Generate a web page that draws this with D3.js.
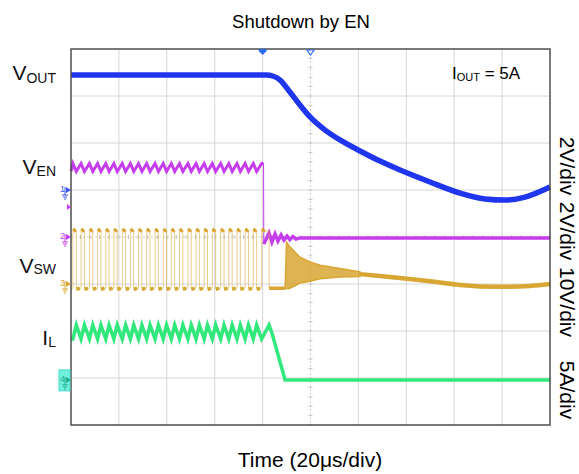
<!DOCTYPE html>
<html>
<head>
<meta charset="utf-8">
<script src="https://cdn.jsdelivr.net/npm/d3@7"></script>
<style>
  body { margin: 0; background: #fff; }
  svg { font-family: "Liberation Sans", Arial, sans-serif; }
</style>
</head>
<body>
<div id="scope"></div>
<script>
const TITLE = "Shutdown by EN";
const X_LABEL = "Time (20μs/div)";
const TIME_RANGE = [0, 200];

// channel settings : units/div and ground level (div from center)
const CH_SCALE = [2, 2, 10, 5];
const CH_GROUND = [1.0, 0, -1.0, -3.04];
const CH_LABELS = ["2V/div", "2V/div", "10V/div", "5A/div"];
const TRIG_T = 80;
const TRIG_LEVEL = 1.28; // on EN
const REF_T = 100;

// switching edges of VSW (µs)
const swRise = [0.8, 4.2, 7.7, 11.1, 14.5, 17.9, 21.4, 24.8, 28.2, 31.6, 35.1, 38.5,
    41.9, 45.3, 48.8, 52.2, 55.6, 59.0, 62.5, 65.9, 69.3, 72.7, 76.1, 79.6];
const swFall = [2.2, 5.6, 9.1, 12.5, 15.9, 19.3, 22.8, 26.2, 29.6, 33.0, 36.5, 39.9,
    43.3, 46.7, 50.2, 53.6, 57.0, 60.4, 63.9, 67.3, 70.7, 74.1, 77.5, 82.7];

// VOUT (V)
const voutT = [0, 81.5, 84.5, 87.3, 91.4, 95.6, 99.8, 106.1, 112.3, 120.7, 129.0,
    137.4, 149.9, 162.4, 172.9, 181.2, 189.6, 200];
const voutV = [4.89, 4.89, 4.84, 4.68, 4.17, 3.62, 3.11, 2.55, 2.13, 1.66, 1.23,
    0.85, 0.34, -0.13, -0.38, -0.43, -0.30, 0.13];

// VEN (V)
const VEN_PEAK = 3.13, VEN_VALLEY = 2.79;
const VEN_DROP_T = 80.4;
const venPostT = [80.5, 82.7, 83.9, 85.2, 86.4, 87.7, 88.9, 90.2, 91.4, 92.7, 93.9, 95.6, 200];
const venPostV = [-0.30, 0.17, -0.21, 0.13, -0.17, 0.09, -0.13, 0.04, -0.11, 0.02, -0.09, -0.04, -0.04];

// VSW (V)
const VSW_HIGH = 11.3, VSW_LOW = -0.9;
const vswRingT = [89.4, 90.0, 91.4, 93.5, 95.6, 99.8, 104.0, 112.3, 120.7];
const vswRingHi = [-0.9, 8.9, 7.9, 6.8, 5.7, 4.7, 4.0, 3.3, 2.6];
const vswRingLo = [-0.9, -1.0, -0.9, -0.4, 0.2, 0.6, 1.1, 1.5, 1.6];
const vswTailT = [120.7, 129.0, 137.4, 149.9, 162.4, 179.1, 191.6, 200];
const vswTailV = [2.1, 1.7, 1.3, 0.6, -0.2, -0.6, -0.4, 0.0];

// IL (A)
const IL_PEAK = 5.84, IL_VALLEY = 4.35;
const ilTailT = [84.0, 89.4, 200];
const ilTailA = [4.9, 0.0, 0.0];

const COLORS = ["#1f36ee", "#c63ded", "#d8a632", "#30e87c"];

const W = 579, H = 474;
const plot = { left: 71, top: 49, right: 550, bottom: 425 };

const x = d3.scaleLinear().domain(TIME_RANGE).range([plot.left, plot.right]);
const y = d3.scaleLinear().domain([-4, 4]).range([plot.bottom, plot.top]);

function chY(ch, v) {
    return y(CH_GROUND[ch] + v / CH_SCALE[ch]);
}

function lineFor(ch) {
    return d3.line().x(d => x(d[0])).y(d => chY(ch, d[1]));
}

const svg = d3.select("#scope").append("svg")
    .attr("width", W)
    .attr("height", H);

function drawGrid() {
    const g = svg.append("g");
    d3.range(1, 10).forEach(i => {
        if (i == 5) return;
        g.append("line")
            .attr("x1", x(i * 20)).attr("x2", x(i * 20))
            .attr("y1", plot.top).attr("y2", plot.bottom)
            .attr("stroke", "#d6d6d6");
    });
    d3.range(-3, 4).forEach(j => {
        if (j == 0) return;
        g.append("line")
            .attr("x1", plot.left).attr("x2", plot.right)
            .attr("y1", y(j)).attr("y2", y(j))
            .attr("stroke", "#d6d6d6");
    });
    // center cross with minor ticks
    g.append("line")
        .attr("x1", x(100)).attr("x2", x(100))
        .attr("y1", plot.top).attr("y2", plot.bottom)
        .attr("stroke", "#cfcfcf").attr("stroke-dasharray", "2,2");
    g.append("line")
        .attr("x1", plot.left).attr("x2", plot.right)
        .attr("y1", y(0)).attr("y2", y(0))
        .attr("stroke", "#cfcfcf").attr("stroke-dasharray", "2,2");
    d3.range(-20, 21).forEach(k => {
        g.append("line")
            .attr("x1", x(100) - 2).attr("x2", x(100) + 2)
            .attr("y1", y(k * 0.2)).attr("y2", y(k * 0.2))
            .attr("stroke", "#c4c4c4");
    });
    d3.range(0, 51).forEach(k => {
        g.append("line")
            .attr("x1", x(k * 4)).attr("x2", x(k * 4))
            .attr("y1", y(0) - 2).attr("y2", y(0) + 2)
            .attr("stroke", "#c4c4c4");
    });
}

function drawTraces() {
    // VOUT
    const vout = voutT.map((t, i) => [t, voutV[i]]);
    svg.append("path")
        .datum(vout)
        .attr("d", lineFor(0).curve(d3.curveMonotoneX))
        .attr("fill", "none")
        .attr("stroke", COLORS[0])
        .attr("stroke-width", 5.5);

    // VEN ripple then drop
    let venPre = [[0, VEN_VALLEY]];
    swRise.forEach((t, i) => {
        if (t < VEN_DROP_T) venPre.push([t, VEN_PEAK]);
        if (swFall[i] < VEN_DROP_T) venPre.push([swFall[i], VEN_VALLEY]);
    });
    venPre.push([VEN_DROP_T, VEN_PEAK]);
    const venPost = venPostT.map((t, i) => [t, venPostV[i]]);
    svg.append("path")
        .datum(venPre)
        .attr("d", lineFor(1))
        .attr("fill", "none")
        .attr("stroke", COLORS[1])
        .attr("stroke-width", 3);
    svg.append("path")
        .datum([venPre[venPre.length - 1], venPost[0]])
        .attr("d", lineFor(1))
        .attr("stroke", COLORS[1])
        .attr("stroke-width", 1);
    svg.append("path")
        .datum(venPost)
        .attr("d", lineFor(1))
        .attr("fill", "none")
        .attr("stroke", COLORS[1])
        .attr("stroke-width", 3.5);

    // VSW square wave (thin edges) + bold flags
    let sq = [[0, VSW_LOW]];
    swRise.forEach((t, i) => {
        sq.push([t, VSW_LOW], [t, VSW_HIGH], [swFall[i], VSW_HIGH], [swFall[i], VSW_LOW]);
    });
    svg.append("path")
        .datum(sq)
        .attr("d", lineFor(2))
        .attr("fill", "none")
        .attr("stroke", COLORS[2])
        .attr("stroke-opacity", 0.55)
        .attr("stroke-width", 1);
    swRise.forEach(t => {
        const px = x(t), py = chY(2, VSW_HIGH);
        svg.append("path")
            .attr("d", `M${px},${py - 2}L${px + 1.5},${py - 1}L${px + 3},${py + 1}`)
            .attr("fill", "none")
            .attr("stroke", COLORS[2])
            .attr("stroke-width", 3);
    });
    swFall.slice(0, -1).forEach(t => {
        const px = x(t), py = chY(2, VSW_LOW);
        svg.append("path")
            .attr("d", `M${px},${py + 1}L${px + 3.5},${py}`)
            .attr("fill", "none")
            .attr("stroke", COLORS[2])
            .attr("stroke-width", 3.5);
    });
    svg.append("path")
        .datum([[swFall[swFall.length - 1], VSW_LOW], [vswRingT[0], VSW_LOW]])
        .attr("d", lineFor(2))
        .attr("stroke", COLORS[2])
        .attr("stroke-width", 3.5);

    // ringing envelope after shutdown
    const ring = vswRingT.map((t, i) => [t, vswRingLo[i], vswRingHi[i]]);
    svg.append("path")
        .datum(ring)
        .attr("d", d3.area()
            .x(d => x(d[0]))
            .y0(d => chY(2, d[1]))
            .y1(d => chY(2, d[2])))
        .attr("fill", COLORS[2])
        .attr("fill-opacity", 0.85)
        .attr("stroke", COLORS[2])
        .attr("stroke-width", 1.5);
    const tail = vswTailT.map((t, i) => [t, vswTailV[i]]);
    svg.append("path")
        .datum(tail)
        .attr("d", lineFor(2).curve(d3.curveMonotoneX))
        .attr("fill", "none")
        .attr("stroke", COLORS[2])
        .attr("stroke-width", 4.5);

    // IL triangle then ramp down
    let il = [[0, IL_VALLEY]];
    swRise.forEach((t, i) => {
        il.push([t, IL_VALLEY], [swFall[i], IL_PEAK]);
    });
    ilTailT.forEach((t, i) => il.push([t, ilTailA[i]]));
    svg.append("path")
        .datum(il)
        .attr("d", lineFor(3))
        .attr("fill", "none")
        .attr("stroke", COLORS[3])
        .attr("stroke-width", 3.5);
}

function groundMarker(ch, color) {
    const py = chY(ch, 0);
    const g = svg.append("g").attr("fill", color).attr("stroke", color);
    g.append("text")
        .attr("x", 60).attr("y", py + 2)
        .attr("font-size", 9).attr("stroke", "none")
        .text(ch + 1);
    g.append("path").attr("d", `M66,${py - 3}L71,${py}L66,${py + 3}Z`).attr("stroke", "none");
    g.append("line").attr("x1", 65).attr("x2", 65).attr("y1", py - 3).attr("y2", py + 5);
    g.append("line").attr("x1", 62).attr("x2", 68).attr("y1", py + 5).attr("y2", py + 5);
    g.append("line").attr("x1", 63).attr("x2", 67).attr("y1", py + 7).attr("y2", py + 7);
    g.append("line").attr("x1", 64).attr("x2", 66).attr("y1", py + 9).attr("y2", py + 9);
}

function drawFrameAndMarkers() {
    svg.append("rect")
        .attr("x", plot.left).attr("y", plot.top)
        .attr("width", plot.right - plot.left)
        .attr("height", plot.bottom - plot.top)
        .attr("fill", "none")
        .attr("stroke", "#4d4d4d")
        .attr("stroke-width", 1.5);

    groundMarker(0, "#3d55f0");
    groundMarker(1, "#c63ded");
    groundMarker(2, "#d8a632");
    // channel 4 marker sits in a cyan box
    const p4 = chY(3, 0);
    svg.append("rect")
        .attr("x", 59).attr("y", p4 - 10)
        .attr("width", 11).attr("height", 21)
        .attr("fill", "#72f0df").attr("stroke", "#45dcc9");
    groundMarker(3, "#1faf8a");

    // trigger level on EN
    const tl = chY(1, TRIG_LEVEL);
    svg.append("path")
        .attr("d", `M67,${tl - 3}L71,${tl}L67,${tl + 3}Z`)
        .attr("fill", COLORS[1]);

    // trigger position / reference markers at the top
    const tx = x(TRIG_T), rx = x(REF_T);
    svg.append("path")
        .attr("d", `M${tx - 4},${plot.top}L${tx + 4},${plot.top}L${tx + 4},${plot.top + 2}L${tx},${plot.top + 6}L${tx - 4},${plot.top + 2}Z`)
        .attr("fill", "#2a6cf0");
    svg.append("path")
        .attr("d", `M${rx - 3.5},${plot.top + 1}L${rx + 3.5},${plot.top + 1}L${rx},${plot.top + 6}Z`)
        .attr("fill", "#fff")
        .attr("stroke", "#2a6cf0")
        .attr("stroke-width", 1.2);
}

function sublabel(px, py, main, sub, dy) {
    const t = svg.append("text")
        .attr("x", px).attr("y", py)
        .attr("text-anchor", "end")
        .attr("fill", "#111");
    t.append("tspan").attr("font-size", 21).text(main);
    t.append("tspan").attr("font-size", 14).attr("dy", dy).text(sub);
}

function drawText() {
    svg.append("text")
        .attr("x", 301).attr("y", 28)
        .attr("text-anchor", "middle")
        .attr("font-size", 18.5)
        .text(TITLE);
    svg.append("text")
        .attr("x", 310).attr("y", 467)
        .attr("text-anchor", "middle")
        .attr("font-size", 21)
        .text(X_LABEL);

    sublabel(56, 80, "V", "OUT", 3);
    sublabel(56, 174, "V", "EN", 2);
    sublabel(56, 273, "V", "SW", 1);
    sublabel(56, 345, "I", "L", 2);

    const note = svg.append("text").attr("x", 452).attr("y", 79);
    note.append("tspan").attr("font-size", 17).text("I");
    note.append("tspan").attr("font-size", 11).attr("dy", 2).text("OUT");
    note.append("tspan").attr("font-size", 17).attr("dy", -2).text(" = 5A");

    const labelY = [166, 231, 302, 390];
    CH_LABELS.forEach((lab, i) => {
        svg.append("text")
            .attr("transform", `translate(560,${labelY[i]}) rotate(90)`)
            .attr("text-anchor", "middle")
            .attr("font-size", 21)
            .text(lab);
    });
}

drawGrid();
drawTraces();
drawFrameAndMarkers();
drawText();
</script>
</body>
</html>
